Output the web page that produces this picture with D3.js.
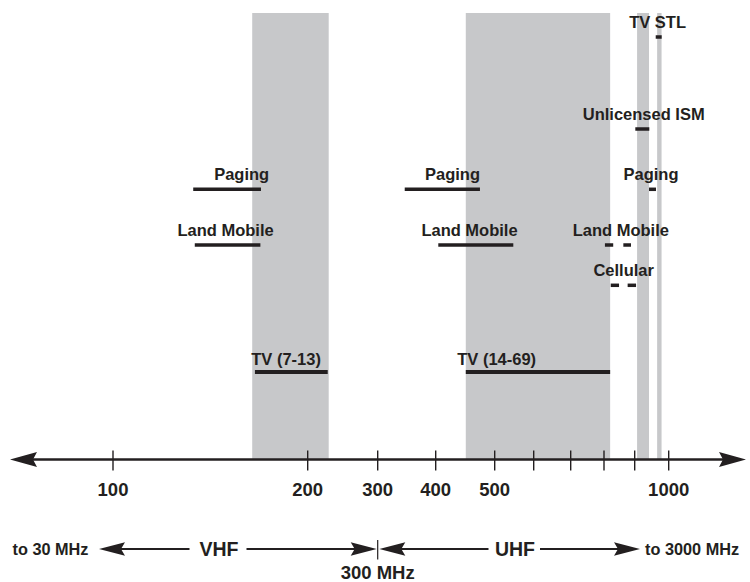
<!DOCTYPE html>
<meta charset="utf-8">
<title>Spectrum</title>
<style>

body {
  margin: 0px;
  background: #fff;
}

text {
  font-family: "Liberation Sans", Arial, sans-serif;
  font-weight: bold;
  fill: #231f20;
}

.band {
  fill: #c7c8ca;
}

.alloc {
  stroke: #231f20;
  stroke-width: 3.5;
}

</style>

<script src="https://d3js.org/d3.v7.min.js"></script>

<body>

<script>

var width = 750, height = 582;

// axis ticks (MHz) and the ones that get a number
var tickValues = [100, 200, 300, 400, 500, 600, 700, 800, 900, 1000];
var tickLabels = [100, 200, 300, 400, 500, 1000];

// grey bands: VHF TV, UHF TV, 900 MHz ISM, TV STL
var bandStart = [171.5, 451, 907, 966];
var bandEnd   = [230,   820, 942, 979];

// allocations: row, from, to (MHz)
var allocRow  = ["paging", "mobile", "tv", "paging", "mobile", "tv",
                 "mobile", "mobile", "cell", "cell", "paging", "ism", "stl"];
var allocFrom = [141.2, 142, 172.9, 346.6, 404.4, 451, 803, 863, 822, 877, 942, 901.8, 961.8];
var allocTo   = [176,   175.7, 228.6, 475, 547.7, 820, 830, 888, 849, 904, 962.6, 943, 979.4];

// labels: text, row, centre (MHz)
var labelText = ["Paging", "Land Mobile", "TV (7-13)", "Paging", "Land Mobile", "TV (14-69)",
                 "Land Mobile", "Cellular", "Paging", "Unlicensed ISM", "TV STL"];
var labelRow  = ["paging", "mobile", "tv", "paging", "mobile", "tv",
                 "mobile", "cell", "paging", "ism", "stl"];
var labelAt   = [166.1, 157.8, 188.9, 428.5, 457.3, 505.1, 854.7, 864.2, 947.9, 926.5, 967.2];

var rows = ["stl", "ism", "paging", "mobile", "cell", "tv"];

// the printed axis is not a clean log scale, so follow the ticks
var x = d3.scaleLinear()
    .domain(tickValues)
    .range([113, 307.7, 377.7, 435.7, 494.7, 533.7, 570.7, 604, 634.7, 668.7]);

var y = d3.scaleOrdinal()
    .domain(rows)
    .range([37, 129, 189.3, 245, 285.3, 372]);

var axisY = 459.5;

var svg = d3.select("body").append("svg")
    .attr("width", width)
    .attr("height", height);

var bands = d3.range(bandStart.length).map(function(i) {
  return {a: bandStart[i], b: bandEnd[i]};
});

svg.append("g").selectAll("rect")
    .data(bands)
  .enter().append("rect")
    .attr("class", "band")
    .attr("x", function(d) { return x(d.a); })
    .attr("width", function(d) { return x(d.b) - x(d.a); })
    .attr("y", 13)
    .attr("height", axisY - 13);

var allocs = d3.range(allocRow.length).map(function(i) {
  return {row: allocRow[i], a: allocFrom[i], b: allocTo[i]};
});

svg.append("g").selectAll("line")
    .data(allocs)
  .enter().append("line")
    .attr("class", "alloc")
    .attr("x1", function(d) { return x(d.a); })
    .attr("x2", function(d) { return x(d.b); })
    .attr("y1", function(d) { return y(d.row); })
    .attr("y2", function(d) { return y(d.row); })
    .style("stroke-width", function(d) { return d.row == "tv" ? 4 : 3.5; });

var labels = d3.range(labelText.length).map(function(i) {
  return {text: labelText[i], row: labelRow[i], f: labelAt[i]};
});

svg.append("g").selectAll("text")
    .data(labels)
  .enter().append("text")
    .attr("x", function(d) { return x(d.f); })
    .attr("y", function(d) { return y(d.row) - (d.row == "tv" ? 7 : 9.3); })
    .attr("text-anchor", "middle")
    .style("font-size", "16.5px")
    .text(function(d) { return d.text; });

// main axis with arrows at both ends
var axis = svg.append("g").attr("transform", "translate(0," + axisY + ")");

axis.append("line")
    .attr("x1", 30).attr("x2", 726)
    .attr("stroke", "#231f20")
    .attr("stroke-width", 2.6);

axis.append("path")
    .attr("d", "M10,0L37,-7.5L33,0L37,7.5Z")
    .attr("fill", "#231f20");

axis.append("path")
    .attr("d", "M746,0L719,-7.5L723,0L719,7.5Z")
    .attr("fill", "#231f20");

axis.selectAll("line.tick")
    .data(tickValues)
  .enter().append("line")
    .attr("class", "tick")
    .attr("x1", x).attr("x2", x)
    .attr("y1", -9).attr("y2", 11)
    .attr("stroke", "#231f20")
    .attr("stroke-width", 1.4);

axis.selectAll("text")
    .data(tickLabels)
  .enter().append("text")
    .attr("x", x)
    .attr("y", 36.5)
    .attr("text-anchor", "middle")
    .style("font-size", "18.5px")
    .text(function(d) { return d; });

// VHF / UHF range row underneath
var range = svg.append("g").attr("transform", "translate(0,549)");
var x300 = x(300);

function arrow(g, tip, dir) {
  g.append("path")
      .attr("d", "M" + tip + ",0L" + (tip + dir * 26) + ",-6.7L" + (tip + dir * 22) + ",0L" + (tip + dir * 26) + ",6.7Z")
      .attr("fill", "#231f20");
}

function seg(g, a, b) {
  g.append("line")
      .attr("x1", a).attr("x2", b)
      .attr("stroke", "#231f20")
      .attr("stroke-width", 2);
}

seg(range, 120, 189.5);
arrow(range, 99, 1);
seg(range, 246.5, 355);
arrow(range, x300 - 1, -1);
seg(range, x300 + 22, 488.5);
arrow(range, x300 + 1.6, 1);
seg(range, 540, 620);
arrow(range, 640, -1);

range.append("line")
    .attr("x1", x300).attr("x2", x300)
    .attr("y1", -9).attr("y2", 10.5)
    .attr("stroke", "#231f20")
    .attr("stroke-width", 1.2);

range.append("text").attr("x", 12.5).attr("y", 6)
    .style("font-size", "16.3px").text("to 30 MHz");
range.append("text").attr("x", 219).attr("y", 7).attr("text-anchor", "middle")
    .style("font-size", "19.5px").text("VHF");
range.append("text").attr("x", 515).attr("y", 7).attr("text-anchor", "middle")
    .style("font-size", "19.5px").text("UHF");
range.append("text").attr("x", 645).attr("y", 6)
    .style("font-size", "16.3px").text("to 3000 MHz");
range.append("text").attr("x", x300).attr("y", 29.5).attr("text-anchor", "middle")
    .style("font-size", "18.5px").text("300 MHz");

</script>
